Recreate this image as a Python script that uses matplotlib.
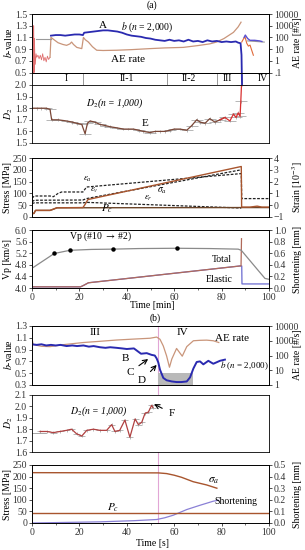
import matplotlib
matplotlib.use('Agg')
import matplotlib.pyplot as plt
import numpy as np
from matplotlib.lines import Line2D
from matplotlib.ticker import NullFormatter, LogLocator, MultipleLocator, FuncFormatter

plt.rcParams['font.family'] = ['Liberation Serif', 'DejaVu Serif']
plt.rcParams['mathtext.fontset'] = 'stix'
plt.rcParams['font.size'] = 7
plt.rcParams['axes.linewidth'] = 0.6
for a in 'xy':
    plt.rcParams[f'{a}tick.major.size'] = 2
    plt.rcParams[f'{a}tick.minor.size'] = 1.2
    plt.rcParams[f'{a}tick.major.width'] = 0.6
    plt.rcParams[f'{a}tick.minor.width'] = 0.5
    plt.rcParams[f'{a}tick.major.pad'] = 1.5
    plt.rcParams[f'{a}tick.color'] = '#333333'

# ---------------- DATA (a) : time in minutes ----------------
b_a_t = [8, 10, 12, 14, 16, 18, 20, 21.5, 22, 24, 26, 28, 30, 32, 34, 36, 38, 40, 42, 44, 46, 48,
         50, 52, 54, 56, 58, 60, 62, 64, 66, 68, 70, 72, 74, 76, 78, 80, 82, 84, 86, 87, 88, 88.4, 88.6]
b_a_v = [1.13, 1.14, 1.14, 1.13, 1.14, 1.15, 1.15, 1.14, 1.18, 1.19, 1.20, 1.21, 1.22, 1.22, 1.21, 1.20,
         1.18, 1.15, 1.13, 1.12, 1.11, 1.09, 1.08, 1.06, 1.05, 1.04, 1.06, 1.04, 1.05, 1.03, 1.06, 1.03,
         1.04, 1.02, 1.05, 1.03, 1.04, 1.02, 1.03, 1.02, 1.03, 1.01, 1.00, 0.80, 0.30]
b_a_post_t = [89.5, 90, 91, 92, 94, 96, 97]
b_a_post_v = [1.10, 1.14, 1.08, 1.05, 1.05, 1.04, 1.03]
b_a_smooth1_t = [1.5, 8.0]
b_a_smooth1_v = [1.07, 1.07]
b_a_smooth2_t = [91, 98]
b_a_smooth2_v = [1.04, 1.02]

ae_a_early_t = [0.6, 0.7, 0.9, 1.0, 1.2, 1.4, 1.7, 2.0, 2.5, 3.0, 3.5, 4.0, 4.5, 5.0, 5.5, 6.0, 6.5, 7.0, 7.6]
ae_a_early_v = [0.1, 1000, 0.1, 80, 3, 0.5, 4, 2, 3, 1.5, 3, 1.2, 4, 1, 2, 0.8, 2.5, 1.3, 2]
ae_a_t = [7.6, 8, 9, 11, 13, 14.6, 16, 16.7, 17.5, 18.9, 21, 21.7, 22.5, 23.8, 25.5, 27.3, 30,
          35.7, 42, 49.8, 56, 63.8, 70, 75, 77.9, 81, 85, 87, 88.2]
ae_a_v = [2, 100, 70, 35, 25, 21, 28, 40, 25, 14, 11, 100, 63, 40, 16, 8, 7.6, 8, 9, 11, 12.6, 14,
          20, 28, 40, 80, 270, 800, 2000]
ae_a_post_t = [88.5, 89.3, 89.9, 90.6, 91.3, 92, 92.7, 93.4]
ae_a_post_v = [40, 80, 110, 32, 18, 22, 8, 3]

phase_bounds = [21.5, 57, 78, 88.5]
phase_names = ['I', 'II-1', 'II-2', 'III', 'IV']
phase_pos = [14.6, 40, 66.3, 82.6, 97.3]

d2_a_t = [0, 2, 4, 6, 7.6, 8.3, 11, 14.6, 17, 18.9, 21, 22.4, 23.4, 24.5, 26.5, 28.7, 31, 33, 36,
          38.5, 40.5, 42.8, 45, 47, 49.8, 52, 54, 56, 58.2, 60, 62.4, 65.3, 67.4, 69.5, 71, 73,
          75, 77.2, 79.3, 81.4, 83.5, 85, 86.1, 87, 87.8, 88.1, 88.4]
d2_a_v = [1.80, 1.80, 1.80, 1.80, 1.79, 1.70, 1.70, 1.69, 1.68, 1.67, 1.66, 1.58, 1.67, 1.69, 1.68,
          1.66, 1.65, 1.64, 1.63, 1.62, 1.62, 1.62, 1.61, 1.60, 1.59, 1.60, 1.60, 1.60, 1.61, 1.62,
          1.62, 1.61, 1.65, 1.70, 1.68, 1.67, 1.71, 1.68, 1.70, 1.72, 1.69, 1.75, 1.72, 1.76, 1.73,
          1.86, 2.00]

sig_a_t = [0, 0.8, 1.5, 7.6, 9, 10.5, 21.5, 22.5, 23.6, 88.3, 88.45, 92, 95, 97, 100]
sig_a_v = [15, 15, 28, 28, 33, 39, 40, 55, 74, 214, 42, 42, 46, 42, 42]
pc_a_t = [0, 0.8, 1.5, 7.6, 9, 10.5, 88.4, 100]
pc_a_v = [15, 15, 28, 28, 33, 39, 40, 40]
eps_ax_t = [0, 1, 7.6, 9, 11, 12.5, 21.5, 23, 88.3, 88.5, 100]
eps_ax_v = [0.60, 0.78, 0.78, 0.72, 1.00, 1.12, 1.12, 1.54, 2.68, 0.56, 0.56]
eps_v_t = [0, 1, 21.5, 23, 88.3]
eps_v_v = [0.30, 0.42, 0.44, 0.56, 3.00]
eps_r_t = [0, 1, 21.5, 23, 88.3]
eps_r_v = [0.14, 0.20, 0.20, 0.24, -0.24]

vp_t = [0, 9.4, 16, 25, 34, 45, 61, 75, 87, 88.3, 95.5, 98.3, 100]
vp_v = [4.68, 5.19, 5.30, 5.33, 5.34, 5.36, 5.37, 5.36, 5.34, 5.30, 4.60, 4.33, 4.30]
vp_mark_t = [9.4, 16, 34, 61]
vp_mark_v = [5.19, 5.30, 5.34, 5.37]
total_t = [0, 20.5, 22, 23.8, 87.8, 88.2, 88.4]
total_v = [0.02, 0.02, 0.05, 0.09, 0.38, 0.38, 0.85]
elastic_t = [0, 20.5, 22, 23.8, 87.8, 88.5, 88.6, 100]
elastic_v = [0.02, 0.02, 0.05, 0.09, 0.38, 0.38, 0.07, 0.07]

# ---------------- DATA (b) : time in seconds ----------------
b_b_t = [0, 2, 4, 6, 8, 10, 12, 14.6, 17, 19, 21.7, 24, 26, 28.7, 31, 33, 35.7, 38, 40, 43, 44,
         46, 48.4, 50.5, 51.8, 52.6, 53.3, 54, 55.4, 56.8, 59, 61, 63, 65.3, 66.7, 68.1, 69.5,
         70.9, 72.3, 74.4, 76.5, 79.3, 81.4]
b_b_v = [0.99, 0.98, 0.99, 0.97, 0.98, 0.97, 0.98, 0.96, 0.97, 0.96, 0.97, 0.95, 0.96, 0.94, 0.93,
         0.94, 0.93, 0.92, 0.91, 0.92, 0.89, 0.83, 0.84, 0.81, 0.80, 0.75, 0.68, 0.56, 0.42, 0.38,
         0.36, 0.35, 0.35, 0.36, 0.43, 0.58, 0.69, 0.70, 0.65, 0.71, 0.66, 0.71, 0.73]
ae_b_t = [0, 0.5, 4, 7.6, 14, 21.7, 28, 35.7, 43, 49.8, 52.6, 54, 55.4, 56.8, 58, 59, 61, 63.4,
          65.3, 68.1, 70.9, 73.7, 76.5, 78.8]
ae_b_v = [1400, 550, 420, 400, 560, 760, 900, 1120, 1300, 1480, 1780, 1260, 440, 93, 16, 58, 300,
          90, 400, 1000, 1070, 1100, 1000, 760]
grey_box_t = [53, 68]
grey_box_v = [0.3, 0.5]

d2_b_t = [3.4, 6.2, 9, 11.8, 14.6, 16.7, 18.8, 21, 23.1, 25.9, 28.7, 31.5, 33.6, 35, 37, 39.2,
          41.3, 43.5, 44.9, 46.3, 47.7, 49.1, 50.5, 51]
d2_b_v = [1.78, 1.78, 1.77, 1.78, 1.79, 1.80, 1.76, 1.74, 1.79, 1.80, 1.79, 1.79, 1.84, 1.78,
          1.79, 1.88, 1.73, 1.89, 1.84, 1.86, 1.94, 1.95, 2.01, 1.99]

sig_b_t = [0, 53.3, 56.8, 60, 63.1, 68, 73.7, 78]
sig_b_v = [217, 216, 213, 206, 197, 178, 164, 150]
pc_b_t = [0, 100]
pc_b_v = [41, 41]
short_b_t = [0, 28.7, 43, 52.6, 56, 59.6, 65.3, 70.9, 76.5, 78.6]
short_b_v = [0.0, 0.01, 0.02, 0.03, 0.045, 0.067, 0.116, 0.153, 0.188, 0.196]
failure_b_t = 53.3

# ---------------- FIGURE ----------------
FW, FH = 305, 550
fig = plt.figure(figsize=(FW / 100, FH / 100), dpi=100)
LPX, RPX = 32, 269


def make_axes(top, bottom):
    return fig.add_axes([LPX / FW, 1 - bottom / FH, (RPX - LPX) / FW, (bottom - top) / FH])


def ftext(x, y, s, **kw):
    kw.setdefault('ha', 'center')
    kw.setdefault('va', 'center')
    return fig.text(x / FW, 1 - y / FH, s, **kw)


def clean_x(ax, labels=False):
    ax.set_xlim(0, 100)
    if labels:
        ax.xaxis.set_major_locator(MultipleLocator(20))
        ax.xaxis.set_minor_locator(MultipleLocator(10))
    else:
        ax.set_xticks([])


C_BLUE = '#2a2ab0'
C_AE = '#c9957a'
C_SIG = '#a8552e'
C_PC = '#6b4428'
C_D2 = '#7a4636'
C_ERR = '#9a9a9a'

log_fmt_a = FuncFormatter(lambda v, p: {0.1: '.1', 1: '1', 10: '10', 100: '100', 1000: '1000', 10000: '10000'}.get(round(v, 1), ''))

# ---- a1 : b-value & AE rate
a1 = make_axes(14, 72.5)
clean_x(a1)
a1.set_ylim(0.5, 1.5)
a1.set_yticks([0.5, 0.7, 0.9, 1.1, 1.3, 1.5])
a1.set_yticklabels(['0.5', '0.7', '0.9', '1.1', '1.3', '1.5'])
a1r = a1.twinx()
a1r.set_yscale('log')
a1r.set_ylim(0.1, 10000)
a1r.yaxis.set_major_locator(LogLocator(base=10, numticks=10))
a1r.yaxis.set_major_formatter(log_fmt_a)
a1r.yaxis.set_minor_formatter(NullFormatter())
a1r.plot(ae_a_early_t, ae_a_early_v, color='#e07070', lw=0.6)
a1r.plot(ae_a_t, ae_a_v, color=C_AE, lw=0.9)
a1r.plot(ae_a_post_t, ae_a_post_v, color='#e06a3a', lw=0.8)
a1r.set_zorder(1)
a1.set_zorder(2)
a1.patch.set_visible(False)
a1.plot(b_a_smooth1_t, b_a_smooth1_v, color='#999999', lw=0.8)
a1.plot(b_a_smooth2_t, b_a_smooth2_v, color='#999999', lw=0.8)
a1.plot(b_a_t, b_a_v, color=C_BLUE, lw=1.3, clip_on=False)
a1.plot(b_a_post_t, b_a_post_v, color='#5a50d0', lw=1.0)
a1.text(30, 1.31, 'A', ha='center', va='center', fontsize=8)
a1.text(48.5, 1.27, r'$b$ ($n$ = 2,000)', ha='center', va='center', fontsize=7)
a1.text(40.5, 0.73, 'AE rate', ha='center', va='center', fontsize=8)

# ---- phase strip
ps = make_axes(72.5, 85)
ps.set_xlim(0, 100)
ps.set_ylim(0, 1)
ps.set_xticks([])
ps.set_yticks([])
ps.patch.set_visible(False)
for b in phase_bounds:
    ps.axvline(b, color='#888888', lw=0.6)
for name, pos in zip(phase_names, phase_pos):
    ps.text(pos, 0.5, name, ha='center', va='center', fontsize=7)

# ---- a2 : D2
a2 = make_axes(85, 143)
clean_x(a2)
a2.set_ylim(1.5, 2.0)
a2.set_yticks([1.5, 1.6, 1.7, 1.8, 1.9, 2.0])
a2.set_yticklabels(['1.5', '1.6', '1.7', '1.8', '1.9', '2.0'])
a2.errorbar(d2_a_t, d2_a_v, xerr=2.5, yerr=0.012, fmt='none', ecolor=C_ERR, elinewidth=0.5)
d2_t = np.array(d2_a_t)
d2_v = np.array(d2_a_v)
m = d2_t <= 81.5
a2.plot(d2_t[m], d2_v[m], color=C_D2, lw=0.9)
a2.plot(d2_t[d2_t >= 79.3], d2_v[d2_t >= 79.3], color='#d83030', lw=0.9)
a2.text(35, 1.84, r'$D_2$($n$ = 1,000)', ha='center', va='center', fontsize=7, style='italic')
a2.text(47.7, 1.67, 'E', ha='center', va='center', fontsize=8)

# ---- a3 : stress & strain
a3 = make_axes(158, 217)
clean_x(a3)
a3.set_ylim(0, 250)
a3.set_yticks([0, 50, 100, 150, 200, 250])
a3r = a3.twinx()
a3r.set_ylim(-1, 4)
a3r.set_yticks([-1, 0, 1, 2, 3, 4])
dash = (0, (2.2, 1.2))
a3r.plot(eps_ax_t, eps_ax_v, color='#222222', lw=0.9, ls=dash)
a3r.plot(eps_v_t, eps_v_v, color='#222222', lw=0.9, ls=dash)
a3r.plot(eps_r_t, eps_r_v, color='#222222', lw=0.9, ls=dash)
a3r.set_zorder(1)
a3.set_zorder(2)
a3.patch.set_visible(False)
a3.plot(pc_a_t, pc_a_v, color=C_PC, lw=1.0)
a3.plot(sig_a_t, sig_a_v, color=C_SIG, lw=1.0)
a3.text(23.6, 160, r'$\varepsilon_a$', ha='center', va='center', fontsize=6.5)
a3.text(26.5, 112, r'$\varepsilon_v$', ha='center', va='center', fontsize=6.5)
a3.text(49, 80, r'$\varepsilon_r$', ha='center', va='center', fontsize=6.5)
a3.text(55, 112, r'$\sigma_a$', ha='center', va='center', fontsize=7)
a3.text(31.5, 36, r'$P_c$', ha='center', va='center', fontsize=8)

# ---- a4 : Vp & shortening
a4 = make_axes(230, 288)
clean_x(a4, labels=True)
a4.set_ylim(4.0, 6.0)
a4.set_yticks([4.0, 4.4, 4.8, 5.2, 5.6, 6.0])
a4.set_yticklabels(['4.0', '4.4', '4.8', '5.2', '5.6', '6.0'])
a4r = a4.twinx()
a4r.set_ylim(0, 1.0)
a4r.set_yticks([0, 0.2, 0.4, 0.6, 0.8, 1.0])
a4r.set_yticklabels(['0.0', '0.2', '0.4', '0.6', '0.8', '1.0'])
a4r.plot(elastic_t, elastic_v, color='#6a6ad0', lw=0.9)
a4r.plot(total_t, total_v, color='#b06a5a', lw=0.9)
a4r.set_zorder(1)
a4.set_zorder(2)
a4.patch.set_visible(False)
a4.plot(vp_t, vp_v, color='#8a8a8a', lw=0.9)
a4.plot(vp_mark_t, vp_mark_v, 'o', color='black', ms=2.2)
a4.text(29, 5.78, r'Vp (#10 $\rightarrow$ #2)', ha='center', va='center', fontsize=7)
a4.text(80, 4.98, 'Total', ha='center', va='center', fontsize=7)
a4.text(79, 4.3, 'Elastic', ha='center', va='center', fontsize=7)

# ---- b1 : b-value & AE rate
b1 = make_axes(326, 385)
clean_x(b1)
b1.set_ylim(0.3, 1.3)
b1.set_yticks([0.3, 0.5, 0.7, 0.9, 1.1, 1.3])
b1.set_yticklabels(['0.3', '0.5', '0.7', '0.9', '1.1', '1.3'])
b1r = b1.twinx()
b1r.set_yscale('log')
b1r.set_ylim(1, 10000)
b1r.yaxis.set_major_locator(LogLocator(base=10, numticks=10))
b1r.yaxis.set_major_formatter(log_fmt_a)
b1r.yaxis.set_minor_formatter(NullFormatter())
b1r.plot(ae_b_t, ae_b_v, color=C_AE, lw=0.9)
b1r.set_zorder(1)
b1.set_zorder(2)
b1.patch.set_visible(False)
b1.fill_between(grey_box_t, grey_box_v[0], grey_box_v[1], color='#b9b9b9', lw=0)
b1.plot(b_b_t, b_b_v, color=C_BLUE, lw=1.4)
b1.text(26.6, 1.19, 'III', ha='center', va='center', fontsize=8)
b1.text(63.3, 1.19, 'IV', ha='center', va='center', fontsize=8)
b1.text(84.5, 1.08, 'AE rate', ha='center', va='center', fontsize=8)
b1.text(89.5, 0.63, r'$b$ ($n$ = 2,000)', ha='center', va='center', fontsize=6.5)
b1.text(39.2, 0.75, 'B', ha='center', va='center', fontsize=8)
b1.annotate('C', xy=(49, 0.74), xytext=(41.4, 0.52), ha='center', va='center', fontsize=8,
            arrowprops=dict(arrowstyle='->', lw=0.8, color='black', shrinkA=2, shrinkB=0))
b1.annotate('D', xy=(52.6, 0.64), xytext=(46.3, 0.37), ha='center', va='center', fontsize=8,
            arrowprops=dict(arrowstyle='->', lw=0.8, color='black', shrinkA=2, shrinkB=0))

# ---- b2 : D2
b2 = make_axes(395, 452)
clean_x(b2)
b2.set_ylim(1.6, 2.1)
b2.set_yticks([1.6, 1.7, 1.8, 1.9, 2.0, 2.1])
b2.set_yticklabels(['1.6', '1.7', '1.8', '1.9', '2.0', '2.1'])
b2.plot([0, 6], [1.77, 1.77], color='#999999', lw=0.6)
b2.errorbar(d2_b_t, d2_b_v, xerr=1.5, yerr=0.012, fmt='none', ecolor=C_ERR, elinewidth=0.5)
b2.plot(d2_b_t, d2_b_v, color='#b04040', lw=0.9)
b2.text(28, 1.96, r'$D_2$($n$ = 1,000)', ha='center', va='center', fontsize=7, style='italic')
b2.annotate('F', xy=(51.5, 2.02), xytext=(59, 1.94), ha='center', va='center', fontsize=8,
            arrowprops=dict(arrowstyle='->', lw=0.8, color='black', shrinkA=3, shrinkB=0))

# ---- b3 : stress & shortening
b3 = make_axes(465, 523)
clean_x(b3, labels=True)
b3.set_ylim(0, 250)
b3.set_yticks([0, 50, 100, 150, 200, 250])
b3r = b3.twinx()
b3r.set_ylim(0, 0.5)
b3r.set_yticks([0, 0.1, 0.2, 0.3, 0.4, 0.5])
b3r.set_yticklabels(['0.0', '0.1', '0.2', '0.3', '0.4', '0.5'])
b3r.plot(short_b_t, short_b_v, color='#8a80d6', lw=0.9)
b3r.set_zorder(1)
b3.set_zorder(2)
b3.patch.set_visible(False)
b3.plot(pc_b_t, pc_b_v, color=C_SIG, lw=1.0)
b3.plot(sig_b_t, sig_b_v, color=C_SIG, lw=1.0)
b3.text(76.5, 180, r'$\sigma_a$', ha='center', va='center', fontsize=8)
b3.text(34, 66, r'$P_c$', ha='center', va='center', fontsize=8)
b3.text(86, 92, 'Shortening', ha='center', va='center', fontsize=7)

# pink failure line across (b)
xf = (LPX + (RPX - LPX) * failure_b_t / 100) / FW
fig.add_artist(Line2D([xf, xf], [1 - 523 / FH, 1 - 326 / FH], transform=fig.transFigure,
                      color='#e2a6d6', lw=0.8, zorder=0))

for ax in (a1, a2, a3, a4, b1, b2, b3, a1r, a3r, a4r, b1r, b3r):
    ax.tick_params(labelsize=7, colors='#333333', labelcolor='#333333')

# axis labels
ftext(8, 43, r'$b$-value', rotation=90)
ftext(9, 114, r'$D_2$', rotation=90)
ftext(8, 187, 'Stress [MPa]', rotation=90)
ftext(8, 259, 'Vp [km/s]', rotation=90)
ftext(298, 43, 'AE rate [#/s]', rotation=90)
ftext(298, 187, r'Strain [10$^{-3}$]', rotation=90)
ftext(298, 259, 'Shortening [mm]', rotation=90)
ftext(152, 306, 'Time [min]')
ftext(152, 5, '(a)')
ftext(155, 318, '(b)')
ftext(8, 355, r'$b$-value', rotation=90)
ftext(9, 423, r'$D_2$', rotation=90)
ftext(8, 494, 'Stress [MPa]', rotation=90)
ftext(298, 355, 'AE rate [#/s]', rotation=90)
ftext(298, 494, 'Shortening [mm]', rotation=90)
ftext(152, 543, 'Time [s]')

fig.savefig('out.png', dpi=100)
